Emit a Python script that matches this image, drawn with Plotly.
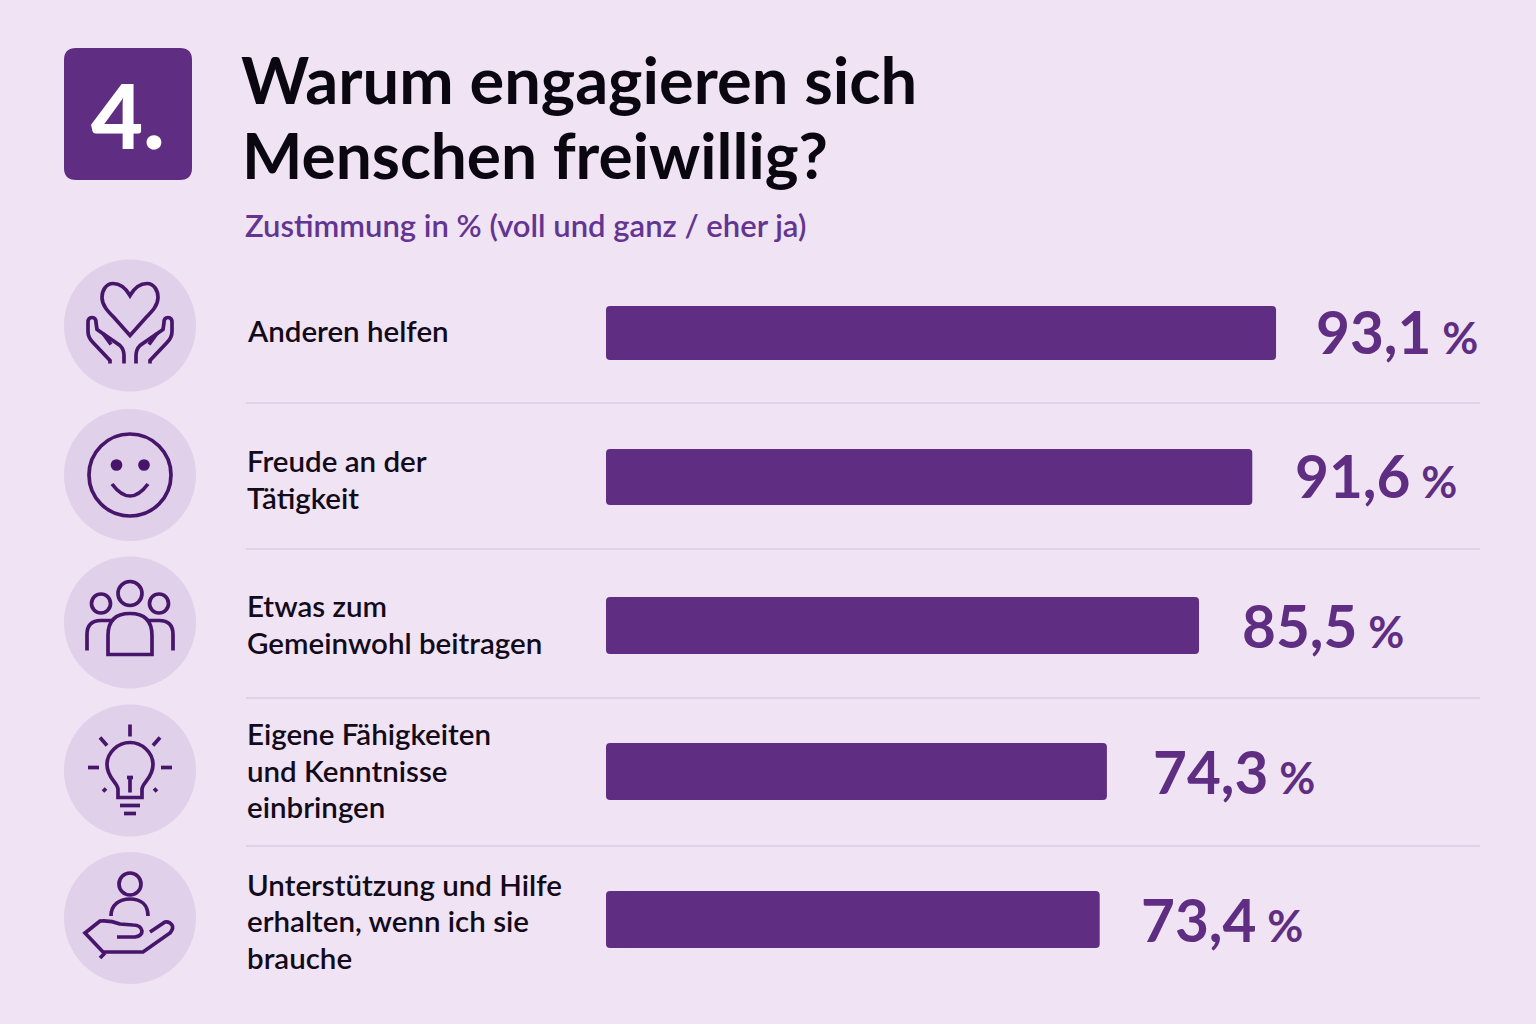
import re
import plotly.graph_objects as go

# Data
categories = [
    "Anderen helfen",
    "Freude an der<br>Tätigkeit",
    "Etwas zum<br>Gemeinwohl beitragen",
    "Eigene Fähigkeiten<br>und Kenntnisse<br>einbringen",
    "Unterstützung und Hilfe<br>erhalten, wenn ich sie<br>brauche",
]
values = [93.1, 91.6, 85.5, 74.3, 73.4]
# the drawn bars are not quite proportional to the printed numbers
bar_lengths = [93.1, 89.8, 82.4, 69.6, 68.6]

# Colours
BG = "#EFE3F4"
CIRCLE = "#E0D0EA"
BAR = "#5F2D82"
ICON = "#47166B"
SUB = "#643491"
RULE = "#DCCDE6"
FONT = "Lato"

W, H = 1536, 1024
BAND = 146.5
ROW0 = 333
CAP = 1  # axis units where the main bar piece starts
bar_tops = [306, 449, 597, 743, 891]
bar_heights = [54, 56, 57, 57, 57]
label_lines_y = [[330], [460, 497], [605, 642], [733, 770, 806], [884, 920, 957]]
value_centers = [331, 475, 625, 771, 919]
value_gaps = [38, 41, 41, 44, 39]
rule_ys = [403, 549, 698, 846]


def place(path, cx, cy, flip=False):
    """Move an icon path given relative to its circle centre onto the page."""
    def repl(m):
        x = float(m.group(1)) * (-1 if flip else 1) + cx
        y = float(m.group(2)) + cy
        return f"{x:.1f},{y:.1f}"
    return re.sub(r"(-?[\d.]+),(-?[\d.]+)", repl, path)


def line_shape(path, cx, cy, flip=False):
    return dict(type="path", path=place(path, cx, cy, flip), xref="x2", yref="y2",
                line=dict(color=ICON, width=3.7), layer="above")


def ring(x, y, r, cx, cy, fill=None):
    return dict(type="circle", xref="x2", yref="y2",
                x0=cx + x - r, x1=cx + x + r, y0=cy + y - r, y1=cy + y + r,
                line=dict(color=ICON, width=3.7), fillcolor=fill, layer="above")


shapes = []

# number badge
shapes.append(dict(
    type="path", xref="x2", yref="y2", layer="below", fillcolor=BAR, line_width=0,
    path="M 76,48 L 180,48 Q 192,48 192,60 L 192,168 Q 192,180 180,180 "
         "L 76,180 Q 64,180 64,168 L 64,60 Q 64,48 76,48 Z",
))

# row separators
for y in rule_ys:
    shapes.append(dict(type="line", xref="x2", yref="y2", x0=246, x1=1480, y0=y, y1=y,
                       line=dict(color=RULE, width=1.5), layer="below"))

# icon backgrounds
centers = [(130, 325.5), (130, 475), (130, 622.5), (130, 770.5), (130, 918)]
for cx, cy in centers:
    shapes.append(dict(type="circle", xref="x2", yref="y2", layer="below",
                       x0=cx - 66, x1=cx + 66, y0=cy - 66, y1=cy + 66,
                       fillcolor=CIRCLE, line_width=0))

# 1 heart in hands
cx, cy = centers[0]
shapes.append(line_shape(
    "M 0,-30 C -4,-37 -10,-42 -17,-42 C -24,-42 -28,-35 -28,-28 C -28,-20 -22,-14 -16,-8 "
    "L 0,10 L 16,-8 C 22,-14 28,-20 28,-28 C 28,-35 24,-42 17,-42 C 10,-42 4,-37 0,-30 Z",
    cx, cy))
for flip in (False, True):
    shapes.append(line_shape(
        "M -20,38 L -20,35 L -37,17 Q -42,12 -42,6 L -42,-3 Q -42,-8 -38,-8 Q -34,-8 -34,-3 "
        "L -33,4 L -10,20 Q -6,24 -6,30 L -6,38", cx, cy, flip))
    shapes.append(line_shape("M -27,8 L -19,19", cx, cy, flip))

# 2 smiley
cx, cy = centers[1]
shapes.append(ring(0, 0, 41, cx, cy))
shapes.append(ring(-13.5, -10, 4, cx, cy, ICON))
shapes.append(ring(14, -10, 4, cx, cy, ICON))
shapes.append(line_shape("M -18,9 Q 0,33 18,9", cx, cy))

# 3 people
cx, cy = centers[2]
shapes.append(ring(0, -29, 12, cx, cy))
shapes.append(ring(-29, -19, 9.5, cx, cy))
shapes.append(ring(29, -19, 9.5, cx, cy))
shapes.append(line_shape("M -22,32 L -22,13 Q -22,-9 0,-9 Q 22,-9 22,13 L 22,32 Z", cx, cy))
for flip in (False, True):
    shapes.append(line_shape("M -43,28 L -43,12 Q -43,-2 -29,-2 L -19,-2", cx, cy, flip))

# 4 light bulb
cx, cy = centers[3]
shapes.append(line_shape(
    "M -12,27 L -12,19 C -12,12 -23,8 -23,-6 C -23,-18 -12,-28 0,-28 "
    "C 12,-28 23,-18 23,-6 C 23,8 12,12 12,19 L 12,27 Z", cx, cy))
for seg in ("M 0,-46 L 0,-34", "M 0,7 L 0,22", "M -3,7 L 3,7", "M -10,35 L 10,35", "M -6,43 L 6,43"):
    shapes.append(line_shape(seg, cx, cy))
for flip in (False, True):
    for seg in ("M -30,-33 L -23,-25", "M -42,-3 L -31,-3", "M -27,21 L -24,18"):
        shapes.append(line_shape(seg, cx, cy, flip))

# 5 person on a hand
cx, cy = centers[4]
shapes.append(ring(0, -34, 11, cx, cy))
shapes.append(line_shape("M -19,-2 C -19,-13 -11,-19 0,-19 C 11,-19 18,-13 18,-2", cx, cy))
shapes.append(line_shape(
    "M -13,19 L 5,19 Q 12,18 12,13 Q 11,7 3,7 L -10,6 Q -20,2 -30,3 L -45,15 L -27,34 "
    "L 13,34 L 40,15 Q 44,10 42,7 Q 39,3 35,4 L 20,14", cx, cy))
shapes.append(line_shape("M -30,40 L -25,35", cx, cy))

annotations = []


def page_text(x, y, text, size, color, weight=400, xanchor="left"):
    annotations.append(dict(
        x=x, y=y, xref="x2", yref="y2", text=text, showarrow=False,
        xanchor=xanchor, yanchor="middle", align="left",
        font=dict(family=FONT, size=size, color=color, weight=weight),
    ))


page_text(128, 114, "4.", 90, "#FFFFFF", 900, "center")
page_text(239, 79, "Warum engagieren sich", 65, "#0B0710", 700)
page_text(240, 154, "Menschen freiwillig?", 64, "#0B0710", 700)
page_text(243, 225, "Zustimmung in % (voll und ganz / eher ja)", 31, SUB, 600)

# row labels and printed values
for i, cat in enumerate(categories):
    row_y = ROW0 + BAND * i
    # lines placed one by one, plotly's own line height is a bit too open here
    for text, line_y in zip(cat.split("<br>"), label_lines_y[i]):
        annotations.append(dict(
            x=245, y=cat, xref="x2", yref="y", text=text, showarrow=False,
            xanchor="left", yanchor="middle", align="left",
            yshift=row_y - line_y,
            font=dict(family=FONT, size=29.5, color="#130A1A", weight=600),
        ))
    label = f"{values[i]:.1f}".replace(".", ",")
    annotations.append(dict(
        x=bar_lengths[i], y=cat, xref="x", yref="y", showarrow=False,
        text=f'{label}<span style="font-size:44px"> %</span>',
        xanchor="left", yanchor="middle", xshift=value_gaps[i],
        yshift=row_y - value_centers[i],
        font=dict(family=FONT, size=58.5, color=BAR, weight=700),
    ))

bar_width = [h / BAND for h in bar_heights]
bar_offset = [(bar_tops[i] - (ROW0 + BAND * i)) / BAND for i in range(len(categories))]

fig = go.Figure()
fig.add_trace(go.Bar(
    x=[v - CAP for v in bar_lengths],
    base=CAP,
    y=categories,
    orientation="h",
    marker=dict(color=BAR, line_width=0),
    width=bar_width,
    offset=bar_offset,
    hoverinfo="skip",
))
# short piece pointing left and overlapping the main one, for round left corners
fig.add_trace(go.Bar(
    x=[-3 * CAP] * len(categories),
    base=3 * CAP,
    y=categories,
    orientation="h",
    marker=dict(color=BAR, line_width=0),
    width=bar_width,
    offset=bar_offset,
    hoverinfo="skip",
))
# invisible page-sized axes that carry the icons and headline
fig.add_trace(go.Scatter(x=[None], y=[None], xaxis="x2", yaxis="y2", hoverinfo="skip", showlegend=False))

fig.update_layout(
    width=W,
    height=H,
    margin=dict(l=0, r=0, t=0, b=0),
    paper_bgcolor=BG,
    plot_bgcolor="rgba(0,0,0,0)",
    showlegend=False,
    barmode="overlay",
    barcornerradius=4,
    font=dict(family=FONT),
    xaxis=dict(domain=[606 / W, (606 + 719.7) / W], range=[0, 100], visible=False),
    yaxis=dict(
        domain=[1 - (ROW0 + BAND * 4.5) / H, 1 - (ROW0 - BAND / 2) / H],
        categoryorder="array", categoryarray=categories,
        autorange=False, range=[4.5, -0.5], visible=False,
    ),
    xaxis2=dict(domain=[0, 1], range=[0, W], visible=False, anchor="y2"),
    yaxis2=dict(domain=[0, 1], range=[H, 0], visible=False, anchor="x2"),
    shapes=shapes,
    annotations=annotations,
)

fig.write_html("out.html", config=dict(displayModeBar=False),
               post_script="document.body.style.margin='0';")
